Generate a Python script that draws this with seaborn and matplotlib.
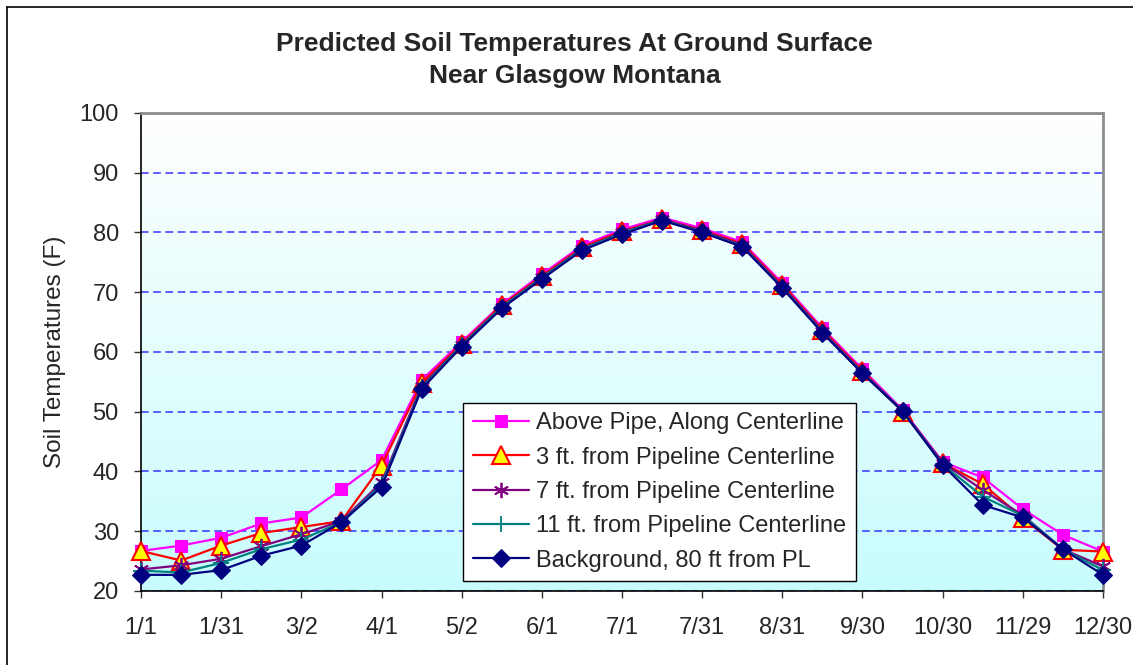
import numpy as np
import pandas as pd
import seaborn as sns
import matplotlib.pyplot as plt
from matplotlib.colors import LinearSegmentedColormap
from matplotlib.lines import Line2D

# dates are every ~15 days, labels only on every other point
tick_labels = ['1/1', '1/31', '3/2', '4/1', '5/2', '6/1', '7/1',
               '7/31', '8/31', '9/30', '10/30', '11/29', '12/30']

above_pipe = [26.7, 27.6, 28.9, 31.3, 32.3, 37.0, 41.9, 55.3, 61.7, 68.0, 73.0, 77.8, 80.5,
              82.5, 80.7, 78.4, 71.5, 64.0, 57.1, 50.3, 41.6, 39.0, 33.7, 29.4, 26.6]
ft3 = [26.7, 25.1, 27.6, 29.7, 30.7, 31.7, 41.0, 54.8, 61.4, 67.8, 72.7, 77.5, 80.2,
       82.2, 80.4, 78.1, 71.2, 63.7, 56.8, 50.0, 41.4, 37.9, 32.2, 26.9, 26.6]
ft7 = [23.6, 24.3, 25.4, 27.5, 29.5, 31.7, 38.2, 54.3, 61.2, 67.6, 72.5, 77.3, 80.0,
       82.2, 80.3, 77.9, 71.0, 63.5, 56.6, 50.2, 41.5, 36.9, 32.7, 27.0, 24.1]
ft11 = [23.4, 23.1, 24.7, 27.0, 28.6, 31.5, 37.8, 54.0, 61.1, 67.5, 72.4, 77.2, 79.9,
        82.1, 80.1, 77.7, 70.8, 63.3, 56.5, 50.1, 41.2, 35.8, 32.6, 27.0, 23.5]
background = [22.7, 22.7, 23.5, 25.9, 27.6, 31.5, 37.4, 53.8, 60.9, 67.3, 72.2, 77.0, 79.7,
              82.0, 80.0, 77.6, 70.7, 63.2, 56.4, 50.1, 41.1, 34.4, 32.3, 27.0, 22.7]

series_names = ['Above Pipe, Along Centerline', '3 ft. from Pipeline Centerline',
                '7 ft. from Pipeline Centerline', '11 ft. from Pipeline Centerline',
                'Background, 80 ft from PL']

sns.set_style('ticks')
plt.rcParams['font.family'] = ['Liberation Sans', 'DejaVu Sans']

idx = np.arange(len(background))
df = pd.DataFrame({'idx': idx})
for name, vals in zip(series_names, [above_pipe, ft3, ft7, ft11, background]):
    df[name] = vals
df = df.melt(id_vars='idx', var_name='series', value_name='temp')

fig = plt.figure(figsize=(11.33, 6.65), dpi=100)
ax = fig.add_axes([0.1245, 0.1113, 0.849, 0.7188])

# white -> light cyan gradient like the Excel plot area
grad = LinearSegmentedColormap.from_list('bg', ['#ffffff', '#c8fcfc'])
ax.imshow(np.linspace(0, 1, 256).reshape(-1, 1), cmap=grad, aspect='auto',
          extent=[0, 24, 20, 100], zorder=0)

styles = {
    series_names[0]: dict(color='#ff00ff', marker='s', markersize=9, markerfacecolor='#ff00ff', markeredgecolor='#ff00ff'),
    series_names[1]: dict(color='#ff0000', marker='^', markersize=13, markerfacecolor='#ffff00', markeredgecolor='#ff0000', markeredgewidth=1.5),
    series_names[2]: dict(color='#800080', marker=(6, 2, 0), markersize=11, markeredgecolor='#800080', markeredgewidth=1.3),
    series_names[3]: dict(color='#008080', marker='+', markersize=11, markeredgecolor='#008080', markeredgewidth=1.3),
    series_names[4]: dict(color='#000080', marker='D', markersize=9, markerfacecolor='#000080', markeredgecolor='#000080'),
}

for i, name in enumerate(series_names):
    sub = df[df['series'] == name]
    sns.lineplot(data=sub, x='idx', y='temp', ax=ax, label=name, linewidth=1.6,
                 clip_on=False, zorder=3 + i, **styles[name])

ax.set_xlim(0, 24)
ax.set_ylim(20, 100)
ax.set_yticks(range(20, 101, 10))
ax.set_xticks(idx[::2])
ax.set_xticklabels(tick_labels)
ax.set_xlabel('')
ax.set_ylabel('Soil Temperatures (F)', fontsize=17.5)
ax.yaxis.set_label_coords(-0.078, 0.5)

ax.yaxis.grid(True, color='#3333ff', linestyle=(0, (5, 3)), linewidth=1.1)
ax.xaxis.grid(False)
ax.set_axisbelow(True)
ax.tick_params(axis='both', labelsize=17, length=5, width=1, color='#333333', direction='out')
ax.tick_params(axis='x', pad=14)
ax.tick_params(axis='y', pad=11)

for side in ['top', 'right']:
    ax.spines[side].set_color('#8c8c8c')
    ax.spines[side].set_linewidth(2)
for side in ['left', 'bottom']:
    ax.spines[side].set_color('#000000')
    ax.spines[side].set_linewidth(1.2)

leg = ax.legend(loc='lower left', bbox_to_anchor=(0.335, 0.021), borderaxespad=0,
                fontsize=17, handlelength=2.4, handletextpad=0.3, labelspacing=0.52,
                borderpad=0.4, fancybox=False, framealpha=1, edgecolor='black')
leg.get_frame().set_linewidth(1)

fig.text(0.507, 0.934, 'Predicted Soil Temperatures At Ground Surface', ha='center', va='center',
         fontsize=19, fontweight='bold')
fig.text(0.507, 0.886, 'Near Glasgow Montana', ha='center', va='center',
         fontsize=19, fontweight='bold')

# chart-area border (left and top are inside the crop)
fig.add_artist(Line2D([7 / 1133, 7 / 1133], [0, 1 - 7 / 665], color='black', linewidth=1.2))
fig.add_artist(Line2D([7 / 1133, 1], [1 - 7 / 665, 1 - 7 / 665], color='black', linewidth=1.2))

fig.savefig('out.png', dpi=100)
